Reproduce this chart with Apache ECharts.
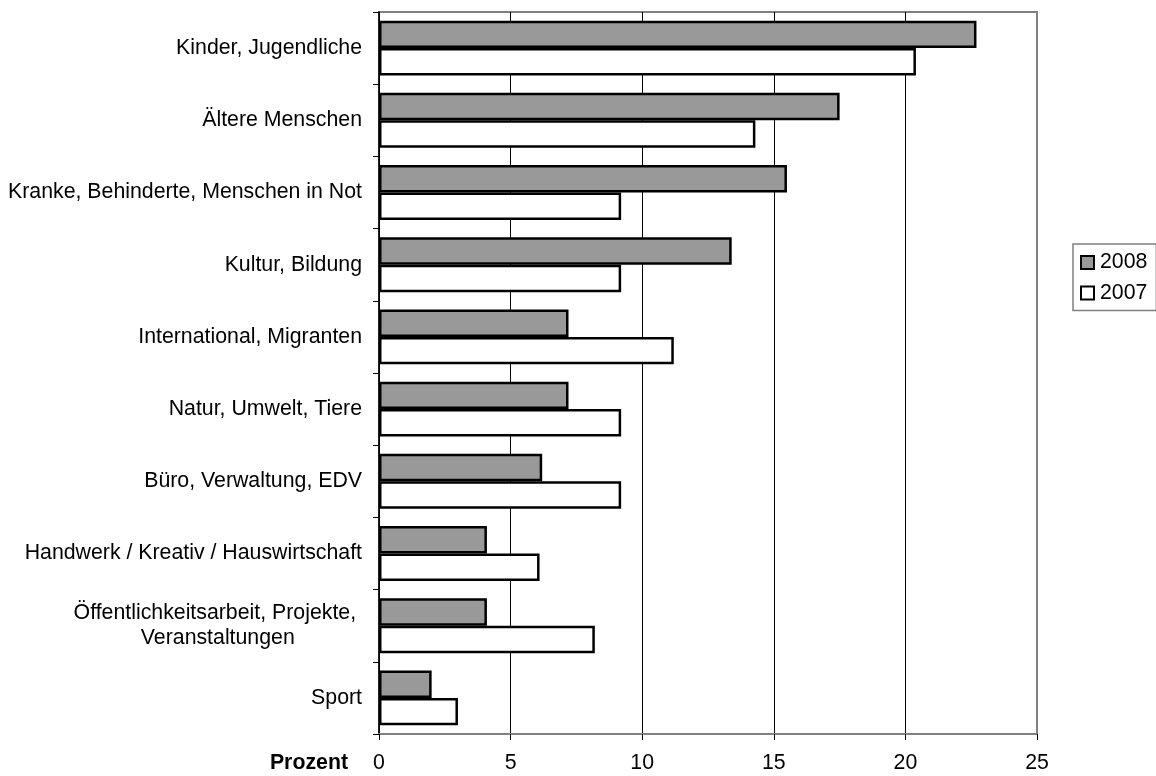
<!DOCTYPE html>
<html>
<head>
<meta charset="utf-8">
<script src="https://cdn.jsdelivr.net/npm/echarts@6/dist/echarts.min.js"></script>
<style>
html,body{margin:0;padding:0;background:#fff;}
#chart{width:1156px;height:776px;}
</style>
</head>
<body>
<div id="chart"></div>
<script>
const categories = [
  "Kinder, Jugendliche",
  "Ältere Menschen",
  "Kranke, Behinderte, Menschen in Not",
  "Kultur, Bildung",
  "International, Migranten",
  "Natur, Umwelt, Tiere",
  "Büro, Verwaltung, EDV",
  "Handwerk / Kreativ / Hauswirtschaft",
  "Öffentlichkeitsarbeit, Projekte, Veranstaltungen",
  "Sport"
];
const values2008 = [22.7, 17.5, 15.5, 13.4, 7.2, 7.2, 6.2, 4.1, 4.1, 2.0];
const values2007 = [20.4, 14.3, 9.2, 9.2, 11.2, 9.2, 9.2, 6.1, 8.2, 3.0];
const xTicks = [0, 5, 10, 15, 20, 25];

const FONT = "'Liberation Sans', Arial, sans-serif";
const FS = 21.3;
const chart = echarts.init(document.getElementById('chart'), null, {renderer: 'canvas'});

chart.setOption({
  animation: false,
  backgroundColor: '#ffffff',
  grid: {
    left: 379, right: 119, top: 12, bottom: 42,
    show: true, borderColor: '#808080', borderWidth: 2, backgroundColor: '#ffffff'
  },
  legend: {
    orient: 'vertical',
    left: 1073, top: 244,
    padding: [8, 9, 7, 7],
    borderColor: '#808080', borderWidth: 1.5,
    itemWidth: 13, itemHeight: 13, itemGap: 9.5,
    icon: 'rect',
    textStyle: {fontFamily: FONT, fontSize: FS, color: '#000', lineHeight: 21, padding: [0, 0, 0, 1]},
    data: ['2008', '2007']
  },
  xAxis: {
    type: 'value',
    min: xTicks[0], max: xTicks[xTicks.length - 1], interval: 5,
    name: 'Prozent',
    nameLocation: 'start',
    nameGap: 31,
    nameTextStyle: {fontFamily: FONT, fontSize: FS, fontWeight: 'bold', color: '#000', verticalAlign: 'top', padding: [19, 0, 0, 0]},
    axisLine: {show: true, lineStyle: {color: '#808080', width: 2}},
    axisTick: {show: true, length: 6, lineStyle: {color: '#000', width: 1}},
    axisLabel: {fontFamily: FONT, fontSize: FS, color: '#000', margin: 19},
    splitLine: {show: true, lineStyle: {color: ['#000', '#000', '#000', '#000', '#000', '#808080'], width: 1}}
  },
  yAxis: {
    type: 'category',
    inverse: true,
    data: categories,
    axisLine: {show: true, lineStyle: {color: '#000', width: 1.5}},
    axisTick: {show: true, length: 6, lineStyle: {color: '#000', width: 1}},
    axisLabel: {
      fontFamily: FONT, fontSize: FS, color: '#000', margin: 17,
      formatter: function (v) {
        if (v.indexOf('Öffentlichkeitsarbeit') === 0) {
          return '{c|Öffentlichkeitsarbeit, Projekte, }\n{c|Veranstaltungen}';
        }
        return v;
      },
      rich: {
        c: {fontFamily: FONT, fontSize: FS, color: '#000', align: 'center', lineHeight: 25}
      }
    },
    splitLine: {show: false}
  },
  series: [
    {
      name: '2008', type: 'bar', data: values2008,
      barGap: '0%', barCategoryGap: '24%',
      itemStyle: {color: '#999999', borderColor: '#000', borderWidth: 2.5}
    },
    {
      name: '2007', type: 'bar', data: values2007,
      barGap: '0%', barCategoryGap: '24%',
      itemStyle: {color: '#ffffff', borderColor: '#000', borderWidth: 2.5}
    }
  ]
});
</script>
</body>
</html>
